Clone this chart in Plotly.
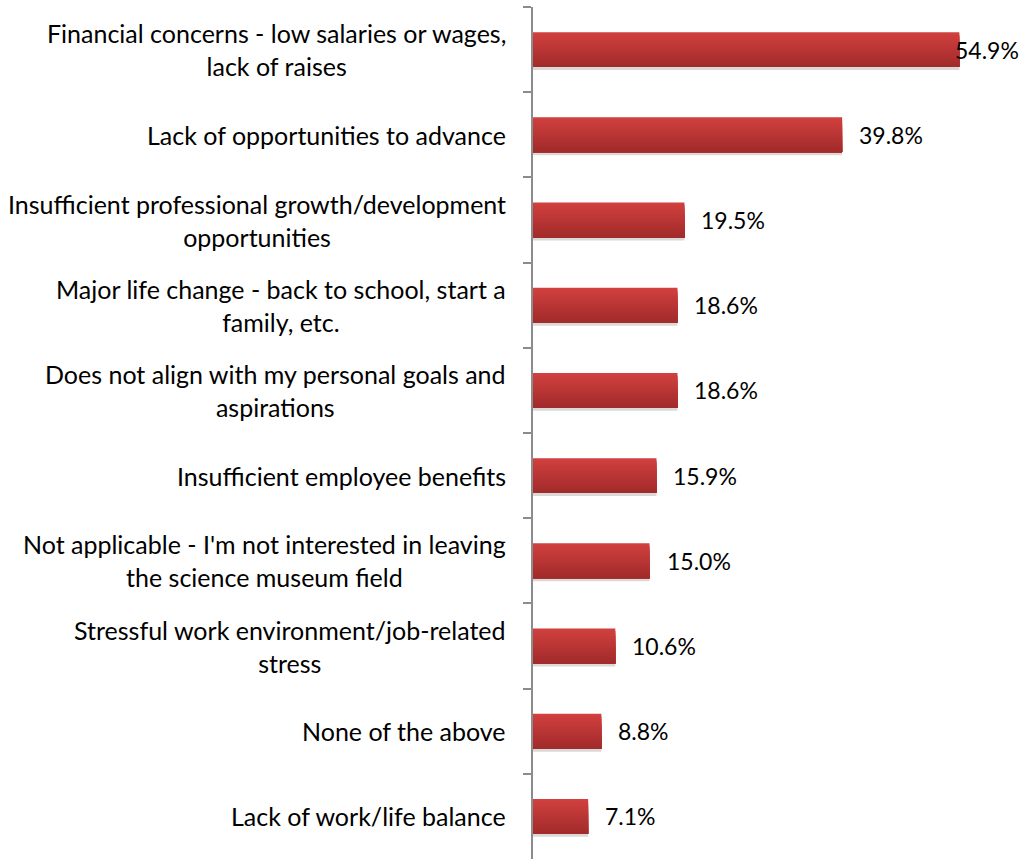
import plotly.graph_objects as go

categories = [
    "Financial concerns - low salaries or wages,<br>lack of raises",
    "Lack of opportunities to advance",
    "Insufficient professional growth/development<br>opportunities",
    "Major life change - back to school, start a<br>family, etc.",
    "Does not align with my personal goals and<br>aspirations",
    "Insufficient employee benefits",
    "Not applicable - I'm not interested in leaving<br>the science museum field",
    "Stressful work environment/job-related<br>stress",
    "None of the above",
    "Lack of work/life balance",
]
values = [54.9, 39.8, 19.5, 18.6, 18.6, 15.9, 15.0, 10.6, 8.8, 7.1]
value_labels = ["54.9%", "39.8%", "19.5%", "18.6%", "18.6%", "15.9%", "15.0%", "10.6%", "8.8%", "7.1%"]

FONT = "Lato"
BAR_W = 0.41
N_STRIPES = 14
top_rgb = (208, 64, 62)
bot_rgb = (162, 43, 43)

fig = go.Figure()

# shadow
fig.add_trace(go.Bar(
    y=categories, x=values, orientation="h",
    width=BAR_W, offset=-BAR_W / 2 + 0.035,
    marker=dict(color="rgba(0,0,0,0.15)", line=dict(width=0)),
    hoverinfo="skip", showlegend=False,
))

ws = BAR_W / N_STRIPES
for i in range(N_STRIPES):
    t = i / (N_STRIPES - 1)
    c = tuple(round(top_rgb[k] + (bot_rgb[k] - top_rgb[k]) * t) for k in range(3))
    fig.add_trace(go.Bar(
        y=categories, x=values, orientation="h",
        width=BAR_W - i * ws, offset=-BAR_W / 2 + i * ws,
        marker=dict(color="rgb(%d,%d,%d)" % c, line=dict(width=0)),
        hoverinfo="skip", showlegend=False,
    ))

annotations = []
for cat, v, lab in zip(categories, values, value_labels):
    annotations.append(dict(
        x=v, y=cat, xref="x", yref="y", text=lab, showarrow=False,
        xanchor="left", yanchor="middle", xshift=(15 if v < 50 else -6),
        font=dict(family=FONT, size=23, color="#000000"),
    ))
    annotations.append(dict(
        x=0, y=cat, xref="paper", yref="y", text=cat, showarrow=False,
        xanchor="right", yanchor="middle", xshift=-25, align="center",
        font=dict(family=FONT, size=25, color="#000000"),
    ))

fig.update_layout(
    width=1033, height=861,
    margin=dict(l=533, r=34, t=7, b=2),
    paper_bgcolor="white", plot_bgcolor="white",
    barmode="overlay",
    annotations=annotations,
    xaxis=dict(range=[0, 60], visible=False, showgrid=False, zeroline=False),
    yaxis=dict(
        type="category", autorange="reversed",
        showticklabels=False, showgrid=False, zeroline=False,
        showline=True, linecolor="#8c8c8c", linewidth=1.5,
        ticks="outside", tickson="boundaries", ticklen=8,
        tickcolor="#8c8c8c", tickwidth=1.5,
    ),
)

fig.write_html("out.html", config={"displayModeBar": False},
               post_script="document.body.style.margin='0';")
